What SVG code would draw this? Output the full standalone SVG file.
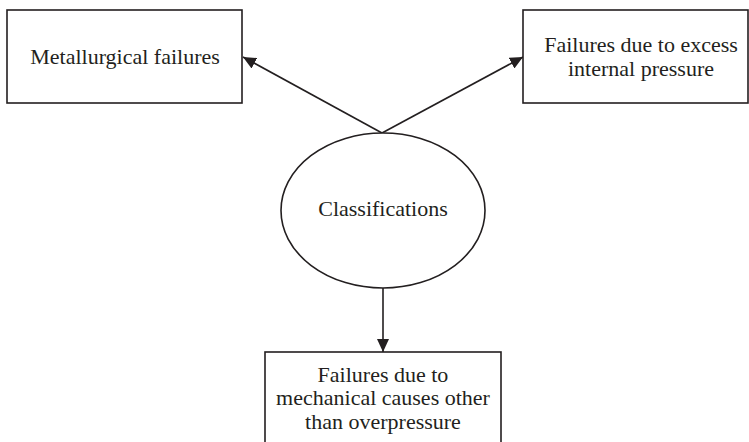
<svg xmlns="http://www.w3.org/2000/svg" width="749" height="442" viewBox="0 0 749 442">
<style>
.box{fill:#fff;stroke:#231f20;stroke-width:1.6}
.t{font-family:"Liberation Serif","Times New Roman",serif;font-size:22px;fill:#231f20;text-anchor:middle}
.c{stroke:#231f20;stroke-width:1.6;fill:none}
</style>
<defs>
<marker id="ah" markerUnits="userSpaceOnUse" markerWidth="14" markerHeight="12" refX="13" refY="6" orient="auto">
<path d="M0,0 L13,6 L0,12 Z" fill="#231f20"/>
</marker>
</defs>
<rect width="749" height="442" fill="#fff"/>
<g id="connectors">
<line class="c" x1="382" y1="133" x2="243" y2="57" marker-end="url(#ah)"/>
<line class="c" x1="382" y1="133" x2="523" y2="57" marker-end="url(#ah)"/>
<line class="c" x1="383" y1="288" x2="383" y2="352" marker-end="url(#ah)"/>
</g>
<g id="metallurgical">
<rect class="box" x="7" y="10" width="235" height="93"/>
<text class="t" x="125" y="64">Metallurgical failures</text>
</g>
<g id="excess-pressure">
<rect class="box" x="523" y="10" width="225" height="93"/>
<text class="t" x="641" y="52">Failures due to excess</text>
<text class="t" x="641" y="76">internal pressure</text>
</g>
<g id="classifications">
<ellipse class="box" cx="383" cy="210.5" rx="102" ry="77.5"/>
<text class="t" x="383" y="216">Classifications</text>
</g>
<g id="mechanical">
<rect class="box" x="265" y="352" width="236" height="110"/>
<text class="t" x="383" y="382">Failures due to</text>
<text class="t" x="383" y="405">mechanical causes other</text>
<text class="t" x="383" y="429">than overpressure</text>
</g>
</svg>
